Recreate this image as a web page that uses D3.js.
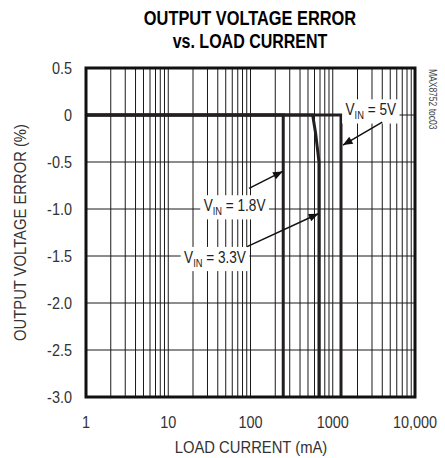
<!DOCTYPE html>
<html>
<head>
<meta charset="utf-8">
<script src="https://cdn.jsdelivr.net/npm/d3@7"></script>
<style>
  body { margin: 0; background: #fff; }
  text { font-family: "Liberation Sans", Arial, sans-serif; }
</style>
</head>
<body>
<script>
var w = 445;
var h = 458;

// data (load current mA, error %)
var curve18 = [[1, 0], [250, 0], [250, -3.0]];
var curve33 = [[1, 0], [570, 0], [620, -0.2], [660, -0.4], [680, -0.5], [680, -3.0]];
var curve50 = [[1, 0], [1260, 0], [1260, -3.0]];

var xTicks = [1, 10, 100, 1000, 10000];
var xTickLabels = ['1', '10', '100', '1000', '10,000'];
var yTicks = [0.5, 0, -0.5, -1.0, -1.5, -2.0, -2.5, -3.0];
var yTickLabels = ['0.5', '0', '-0.5', '-1.0', '-1.5', '-2.0', '-2.5', '-3.0'];

// labels: text centre and arrow from/to, in data units
var labels = [
  {sub: '5V', at: [2900, 0.06], from: [4000, -0.075], to: [1330, -0.32]},
  {sub: '1.8V', at: [64, -0.96], from: [96, -0.78], to: [246, -0.6]},
  {sub: '3.3V', at: [37, -1.51], from: [91, -1.4], to: [668, -1.05]}
];

var margin = {left: 86, right: 30, top: 68, bottom: 61};

var svg = d3.select('body').append('svg')
  .attr('width', w).attr('height', h);

var x = d3.scaleLog().domain([1, 10000]).range([margin.left, w - margin.right]);
var y = d3.scaleLinear().domain([-3, 0.5]).range([h - margin.bottom, margin.top]);

// narrow text: the original uses a condensed face, squeeze a normal one
function ctext(parent, tx, ty, rot, sx) {
  var g = parent.append('g')
    .attr('transform', 'translate(' + tx + ',' + ty + ')' + (rot ? ' rotate(' + rot + ')' : '') + ' scale(' + sx + ',1)');
  return g.append('text').attr('x', 0).attr('y', 0);
}

// title
ctext(svg, 250, 25, 0, 0.82)
  .attr('text-anchor', 'middle').attr('font-size', 20).attr('font-weight', 'bold')
  .text('OUTPUT VOLTAGE ERROR');
ctext(svg, 250, 48, 0, 0.8)
  .attr('text-anchor', 'middle').attr('font-size', 20).attr('font-weight', 'bold')
  .text('vs. LOAD CURRENT');

// grid
var minor = [];
for (var d = 1; d < 10000; d *= 10) {
  for (var k = 2; k <= 9; k++) minor.push(d * k);
}
minor = minor.concat([10, 100, 1000]);

var grid = svg.append('g');
grid.selectAll('.vg').data(minor).enter().append('line')
  .attr('x1', function(d){ return x(d); }).attr('x2', function(d){ return x(d); })
  .attr('y1', y(0.5)).attr('y2', y(-3))
  .attr('stroke', '#1a1a1a').attr('stroke-width', 1);
grid.selectAll('.hg').data(yTicks).enter().append('line')
  .attr('x1', x(1)).attr('x2', x(10000))
  .attr('y1', function(d){ return y(d); }).attr('y2', function(d){ return y(d); })
  .attr('stroke', '#1a1a1a').attr('stroke-width', 1);

// curves
var line = d3.line().x(function(d){ return x(d[0]); }).y(function(d){ return y(d[1]); });
[curve18, curve33, curve50].forEach(function(c){
  svg.append('path').datum(c).attr('d', line)
    .attr('fill', 'none').attr('stroke', '#231f20').attr('stroke-width', 3);
});

// labels with white boxes
labels.forEach(function(l){
  var t = ctext(svg, x(l.at[0]), y(l.at[1]), 0, 0.85)
    .attr('text-anchor', 'middle').attr('font-size', 16).attr('fill', '#222')
    .attr('dy', 6);
  t.append('tspan').text('V');
  t.append('tspan').attr('font-size', 11).attr('dy', 4).text('IN');
  t.append('tspan').attr('dy', -4).text(' = ' + l.sub);
  var bb = t.node().getBBox();
  d3.select(t.node().parentNode).insert('rect', 'text')
    .attr('x', bb.x - 4).attr('y', bb.y - 2)
    .attr('width', bb.width + 8).attr('height', bb.height + 4)
    .attr('fill', '#fff');
});

// arrows
svg.append('defs').append('marker')
  .attr('id', 'ah').attr('viewBox', '0 0 12 10').attr('refX', 12).attr('refY', 5)
  .attr('markerWidth', 12).attr('markerHeight', 8).attr('markerUnits', 'userSpaceOnUse')
  .attr('orient', 'auto')
  .append('path').attr('d', 'M0,0L12,5L0,10z').attr('fill', '#111');
labels.forEach(function(l){
  svg.append('line')
    .attr('x1', x(l.from[0])).attr('y1', y(l.from[1]))
    .attr('x2', x(l.to[0])).attr('y2', y(l.to[1]))
    .attr('stroke', '#111').attr('stroke-width', 1.5)
    .attr('marker-end', 'url(#ah)');
});

// frame
svg.append('rect')
  .attr('x', x(1)).attr('y', y(0.5))
  .attr('width', x(10000) - x(1)).attr('height', y(-3) - y(0.5))
  .attr('fill', 'none').attr('stroke', '#111').attr('stroke-width', 3);

// tick labels
xTicks.forEach(function(d, i){
  ctext(svg, x(d), h - margin.bottom + 31, 0, 0.85)
    .attr('text-anchor', 'middle').attr('font-size', 17).attr('fill', '#333')
    .text(xTickLabels[i]);
});
yTicks.forEach(function(d, i){
  ctext(svg, margin.left - 14, y(d) + 6, 0, 0.85)
    .attr('text-anchor', 'end').attr('font-size', 17).attr('fill', '#333')
    .text(yTickLabels[i]);
});

// axis titles
ctext(svg, 251, 453, 0, 0.87)
  .attr('text-anchor', 'middle').attr('font-size', 17).attr('fill', '#333')
  .text('LOAD CURRENT (mA)');
ctext(svg, 26, y(-1.25), -90, 0.87)
  .attr('text-anchor', 'middle').attr('font-size', 17).attr('fill', '#333')
  .text('OUTPUT VOLTAGE ERROR (%)');

// toc tag
ctext(svg, 429, y(0.5) + 1, 90, 0.85)
  .attr('font-size', 10).attr('fill', '#444')
  .text('MAX8752 toc03');
</script>
</body>
</html>
